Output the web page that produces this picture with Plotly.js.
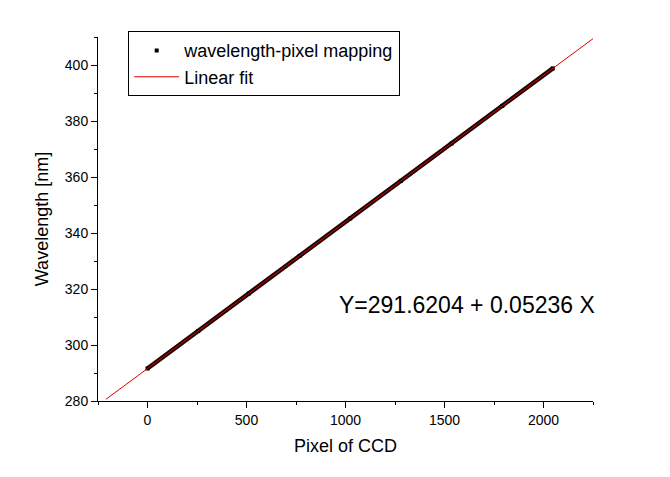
<!DOCTYPE html>
<html>
<head>
<meta charset="utf-8">
<script src="https://cdn.plot.ly/plotly-3.0.1.min.js"></script>
<style>html,body{margin:0;padding:0;background:#fff;}#chart{width:670px;height:477px;}</style>
</head>
<body>
<div id="chart"></div>
<script>
// Sampled readings of the measured wavelength-pixel mapping (CCD pixel -> wavelength nm)
var pixelValues = [0, 256, 512, 768, 1024, 1280, 1536, 1792, 2047];
var wavelengthValues = [291.6, 305.0, 318.4, 331.8, 345.2, 358.6, 372.0, 385.4, 398.8];

// Linear fit line end points (as drawn in the picture)
var fitPixel = [-210, 2250];
var fitWavelength = [280.6, 409.4];

var seriesName = 'wavelength-pixel mapping';
var fitName = 'Linear fit';
var fitLabel = 'Y=291.6204 + 0.05236 X';

var xTickVals = [0, 500, 1000, 1500, 2000];
var yTickVals = [280, 300, 320, 340, 360, 380, 400];

var FONT = 'Arial, "Liberation Sans", sans-serif';

var traces = [
  {
    x: pixelValues, y: wavelengthValues, type: 'scatter', mode: 'lines',
    line: {color: '#1a0404', width: 4.5}, showlegend: false, hoverinfo: 'skip'
  },
  {
    x: pixelValues, y: wavelengthValues, type: 'scatter', mode: 'markers',
    name: seriesName,
    marker: {symbol: 'square', size: 4, color: '#000000'}
  },
  {
    x: fitPixel, y: fitWavelength, type: 'scatter', mode: 'lines',
    name: fitName,
    line: {color: '#e00000', width: 1}
  }
];

var axisCommon = {
  showline: true, linecolor: '#000', linewidth: 1,
  ticks: 'outside', ticklen: 6, tickwidth: 1, tickcolor: '#000',
  showgrid: false, zeroline: false,
  tickfont: {family: FONT, size: 14, color: '#000'},
  mirror: false, automargin: true
};

var layout = {
  width: 670, height: 477,
  margin: {l: 98, r: 77, t: 37, b: 76},
  paper_bgcolor: '#fff', plot_bgcolor: '#fff',
  font: {family: FONT, color: '#000'},
  xaxis: Object.assign({}, axisCommon, {
    range: [-250, 2250], tickmode: 'array', tickvals: xTickVals,
    minor: {dtick: 250, tick0: -250, ticks: 'outside', ticklen: 3, tickcolor: '#000', showgrid: false},
    title: {text: 'Pixel of CCD', standoff: 12, font: {family: FONT, size: 18, color: '#000'}}
  }),
  yaxis: Object.assign({}, axisCommon, {
    range: [280, 410], tickmode: 'array', tickvals: yTickVals,
    minor: {dtick: 10, tick0: 280, ticks: 'outside', ticklen: 3, tickcolor: '#000', showgrid: false},
    title: {text: 'Wavelength [nm]', standoff: 11, font: {family: FONT, size: 18, color: '#000'}}
  }),
  legend: {
    x: 0.061, y: 1.016, xanchor: 'left', yanchor: 'top',
    bordercolor: '#000', borderwidth: 1, bgcolor: '#fff',
    font: {family: FONT, size: 18, color: '#000'},
    itemwidth: 45, tracegroupgap: 0
  },
  annotations: [{
    x: 958, y: 314.2, xref: 'x', yref: 'y', xanchor: 'left', yanchor: 'middle',
    text: fitLabel, showarrow: false,
    font: {family: FONT, size: 23, color: '#000'}
  }],
  showlegend: true
};

Plotly.newPlot('chart', traces, layout, {displayModeBar: false, staticPlot: true});
</script>
</body>
</html>
